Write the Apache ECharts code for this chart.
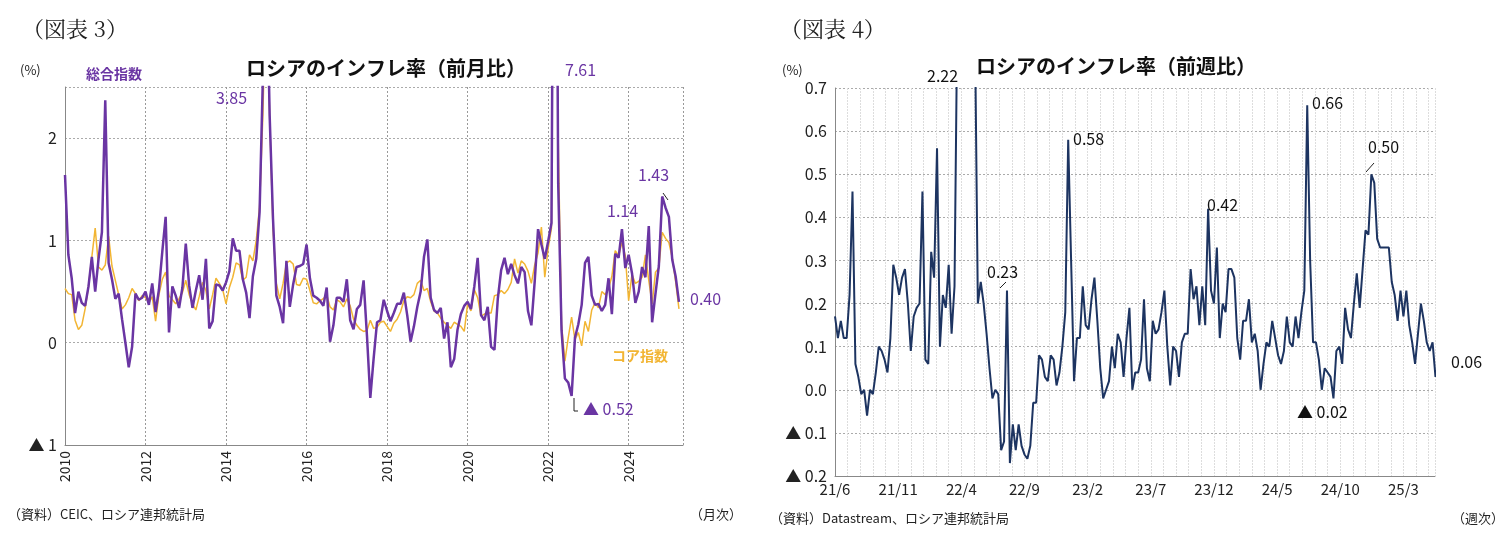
<!DOCTYPE html>
<html><head><meta charset="utf-8">
<script src="https://cdn.jsdelivr.net/npm/echarts@6/dist/echarts.min.js"></script>
<style>html,body{margin:0;background:#fff}#c{width:1511px;height:559px}</style>
</head><body><div id="c"></div>
<script>
// 図表3 月次 2010/1〜2025/4
var headline = [
  1.64,0.86,0.63,0.29,0.50,0.39,0.36,0.55,0.84,0.50,0.82,1.08,
  2.37,0.78,0.62,0.43,0.48,0.23,0.00,-0.24,-0.04,0.48,0.42,0.44,
  0.50,0.37,0.58,0.30,0.52,0.89,1.23,0.10,0.55,0.46,0.34,0.54,
  0.97,0.56,0.34,0.51,0.66,0.42,0.82,0.14,0.21,0.57,0.56,0.51,
  0.59,0.70,1.02,0.90,0.90,0.62,0.49,0.24,0.65,0.82,1.28,2.62,
  3.85,2.22,1.21,0.46,0.35,0.19,0.80,0.35,0.57,0.74,0.75,0.77,
  0.96,0.63,0.46,0.44,0.41,0.36,0.54,0.01,0.17,0.44,0.44,0.40,
  0.62,0.22,0.13,0.33,0.37,0.61,0.07,-0.54,-0.15,0.20,0.22,0.42,
  0.31,0.21,0.29,0.38,0.38,0.49,0.27,0.01,0.16,0.35,0.50,0.84,
  1.01,0.44,0.32,0.29,0.34,0.04,0.20,-0.24,-0.16,0.13,0.28,0.36,
  0.40,0.33,0.55,0.83,0.27,0.22,0.35,-0.04,-0.07,0.43,0.71,0.83,
  0.67,0.77,0.66,0.58,0.74,0.69,0.31,0.17,0.60,1.11,0.96,0.82,
  0.99,1.17,7.61,1.56,0.12,-0.35,-0.39,-0.52,0.05,0.18,0.37,0.78,
  0.84,0.46,0.37,0.38,0.31,0.37,0.63,0.28,0.87,0.83,1.11,0.73,
  0.86,0.68,0.39,0.50,0.74,0.64,1.14,0.20,0.48,0.75,1.43,1.32,
  1.23,0.81,0.65,0.40
];
var core = [
  0.53,0.48,0.47,0.22,0.13,0.17,0.33,0.55,0.84,1.12,0.74,0.71,
  0.76,1.04,0.75,0.61,0.47,0.33,0.37,0.44,0.53,0.48,0.41,0.46,
  0.44,0.39,0.45,0.21,0.47,0.62,0.69,0.46,0.42,0.38,0.43,0.49,
  0.61,0.47,0.38,0.32,0.45,0.59,0.51,0.33,0.47,0.63,0.58,0.52,
  0.38,0.54,0.64,0.78,0.76,0.61,0.64,0.86,0.80,1.00,1.33,2.24,
  3.65,2.20,1.11,0.58,0.43,0.58,0.78,0.80,0.77,0.57,0.56,0.63,
  0.62,0.51,0.39,0.38,0.41,0.43,0.47,0.35,0.32,0.42,0.40,0.35,
  0.43,0.36,0.23,0.17,0.13,0.11,0.12,0.22,0.14,0.15,0.20,0.21,
  0.16,0.11,0.19,0.23,0.30,0.41,0.45,0.44,0.47,0.58,0.61,0.51,
  0.53,0.40,0.31,0.29,0.24,0.20,0.17,0.14,0.20,0.18,0.16,0.11,
  0.38,0.31,0.52,0.44,0.26,0.28,0.29,0.29,0.46,0.47,0.51,0.48,
  0.52,0.59,0.82,0.68,0.80,0.77,0.70,0.58,0.76,0.88,1.13,0.64,
  0.92,1.12,7.00,2.00,0.18,-0.18,0.05,0.25,0.03,0.10,-0.03,0.21,
  0.11,0.32,0.39,0.34,0.50,0.47,0.53,0.65,0.90,0.85,0.98,0.85,
  0.41,0.67,0.58,0.60,0.64,0.86,0.61,0.38,0.69,0.73,1.08,1.02,
  0.98,0.83,0.60,0.33
];
// 図表4 週次 2021/6〜2025/5
var weekly = [
  0.17,0.12,0.16,0.12,0.12,0.22,0.46,0.06,0.03,-0.01,0.00,-0.06,0.00,-0.01,0.04,0.10,
  0.09,0.07,0.04,0.12,0.29,0.26,0.22,0.26,0.28,0.20,0.09,0.17,0.19,0.20,0.46,0.07,
  0.06,0.32,0.26,0.56,0.10,0.22,0.19,0.29,0.13,0.24,0.90,1.60,2.22,1.50,1.20,1.00,
  0.85,0.20,0.25,0.20,0.13,0.05,-0.02,0.00,-0.01,-0.14,-0.12,0.23,-0.17,-0.08,-0.14,-0.08,
  -0.13,-0.15,-0.16,-0.13,-0.03,-0.03,0.08,0.07,0.03,0.02,0.08,0.07,0.01,0.04,0.10,0.18,
  0.58,0.30,0.02,0.12,0.12,0.24,0.15,0.14,0.21,0.26,0.16,0.05,-0.02,0.00,0.02,0.10,
  0.05,0.13,0.11,0.03,0.12,0.19,0.00,0.04,0.04,0.07,0.21,0.05,0.02,0.16,0.13,0.14,
  0.18,0.23,0.10,0.01,0.10,0.09,0.03,0.11,0.13,0.13,0.28,0.21,0.24,0.15,0.24,0.15,
  0.42,0.23,0.20,0.33,0.12,0.20,0.18,0.28,0.28,0.26,0.12,0.07,0.16,0.16,0.21,0.11,
  0.13,0.09,0.00,0.06,0.11,0.10,0.16,0.12,0.08,0.06,0.09,0.17,0.11,0.10,0.17,0.12,
  0.18,0.23,0.66,0.30,0.11,0.11,0.07,0.00,0.05,0.04,0.03,-0.02,0.09,0.10,0.06,0.19,
  0.14,0.12,0.20,0.27,0.19,0.28,0.37,0.36,0.50,0.48,0.35,0.33,0.33,0.33,0.33,0.25,
  0.22,0.16,0.23,0.17,0.23,0.15,0.11,0.06,0.13,0.20,0.16,0.11,0.09,0.11,0.03,0.06
];
var yearTicks = [2010,2012,2014,2016,2018,2020,2022,2024];
var monthLabels = ['21/6','21/11','22/4','22/9','23/2','23/7','23/12','24/5','24/10','25/3'];

var purple = '#6a35a3', orange = '#f2b533', navy = '#1d3461';
var jp = '"Noto Sans CJK JP", sans-serif';

function neg(v, d){ return v < 0 ? '▲ ' + Math.abs(v).toFixed(d) : v.toFixed(d); }
function txt(x, y, s, size, color, weight){
  return {type:'text', left:x, top:y, z:10,
    style:{text:s, font:(weight || 'normal') + ' ' + size + 'px ' + jp, fill:color}};
}

var chart = echarts.init(document.getElementById('c'));
chart.setOption({
  animation: false,
  grid: [
    {left: 65, top: 87, width: 618, height: 358},
    {left: 835, top: 88, width: 600, height: 388}
  ],
  xAxis: [
    {gridIndex:0, type:'value', min:2010, max:2025.35, interval:2,
     axisLine:{onZero:false, lineStyle:{color:'#888'}}, axisTick:{show:false},
     axisLabel:{rotate:90, color:'#222', fontSize:14, fontFamily:jp, showMaxLabel:false, margin:6,
       formatter:function(v){ return yearTicks.indexOf(v) >= 0 ? String(v) : ''; }},
     splitLine:{show:true, lineStyle:{color:'#999', type:[2,2]}}},
    {gridIndex:1, type:'value', min:0, max:47.5, interval:1,
     axisLine:{onZero:false, lineStyle:{color:'#888'}}, axisTick:{show:false},
     axisLabel:{color:'#222', fontSize:15, fontFamily:jp, showMaxLabel:false, margin:6,
       formatter:function(v){ return v % 5 === 0 ? (monthLabels[v/5] || '') : ''; }},
     splitLine:{show:true, lineStyle:{color:'#ddd', width:1, type:[2,1]}}}
  ],
  yAxis: [
    {gridIndex:0, type:'value', min:-1, max:2.5, interval:1,
     axisLine:{show:true, lineStyle:{color:'#888'}}, axisTick:{show:false},
     axisLabel:{color:'#222', fontSize:16, fontFamily:jp, showMaxLabel:false,
       formatter:function(v){ return neg(v, 0); }},
     splitLine:{lineStyle:{color:'#aaa', type:[2,2]}}},
    {gridIndex:1, type:'value', min:-0.2, max:0.7, interval:0.1,
     axisLine:{show:true, lineStyle:{color:'#888'}}, axisTick:{show:false},
     axisLabel:{color:'#222', fontSize:16, fontFamily:jp,
       formatter:function(v){ return neg(v, 1); }},
     splitLine:{lineStyle:{color:'#aaa', type:[2,2]}}}
  ],
  series: [
    {type:'line', xAxisIndex:0, yAxisIndex:0, symbol:'none', clip:true,
     lineStyle:{color:orange, width:1.5},
     data: core.map(function(v,i){ return [2010 + i/12, v]; })},
    {type:'line', xAxisIndex:0, yAxisIndex:0, symbol:'none', clip:true,
     lineStyle:{color:purple, width:2.5},
     data: headline.map(function(v,i){ return [2010 + i/12, v]; })},
    {type:'line', xAxisIndex:1, yAxisIndex:1, symbol:'none', clip:true,
     lineStyle:{color:navy, width:2},
     data: weekly.map(function(v,i){ return [i*12/52, v]; })}
  ],
  graphic: [
    {type:'text', left:22, top:18, style:{text:'（図表 3）', font:'22px "Noto Serif CJK JP", "DejaVu Serif", serif', fill:'#222'}},
    {type:'text', left:780, top:18, style:{text:'（図表 4）', font:'22px "Noto Serif CJK JP", "DejaVu Serif", serif', fill:'#222'}},
    txt(246, 58, 'ロシアのインフレ率（前月比）', 20, '#111', 'bold'),
    txt(976, 56, 'ロシアのインフレ率（前週比）', 20, '#111', 'bold'),
    txt(20, 64, '(%)', 13, '#222'),
    txt(782, 64, '(%)', 13, '#222'),
    txt(86, 67, '総合指数', 14, purple, 'bold'),
    txt(612, 349, 'コア指数', 14, orange, 'bold'),
    txt(216, 90, '3.85', 16, purple),
    txt(565, 62, '7.61', 16, purple),
    txt(607, 203, '1.14', 16, purple),
    txt(638, 167, '1.43', 16, purple),
    txt(690, 291, '0.40', 16, purple),
    txt(583, 401, '▲ 0.52', 16, purple),
    {type:'polyline', z:10, shape:{points:[[574,398],[574,411],[578,411]]}, style:{stroke:'#222', lineWidth:1, fill:null}},
    {type:'line', z:10, shape:{x1:663,y1:193,x2:668,y2:200}, style:{stroke:'#222', lineWidth:1}},
    txt(927, 68, '2.22', 16, '#111'),
    txt(1073, 131, '0.58', 16, '#111'),
    txt(987, 264, '0.23', 16, '#111'),
    {type:'line', z:10, shape:{x1:1000,y1:288,x2:1006,y2:282}, style:{stroke:'#222', lineWidth:1}},
    txt(1207, 197, '0.42', 16, '#111'),
    txt(1312, 95, '0.66', 16, '#111'),
    txt(1368, 139, '0.50', 16, '#111'),
    {type:'line', z:10, shape:{x1:1374,y1:163,x2:1366,y2:172}, style:{stroke:'#222', lineWidth:1}},
    txt(1297, 404, '▲ 0.02', 16, '#111'),
    txt(1451, 354, '0.06', 16, '#111'),
    txt(8, 508, '（資料）CEIC、ロシア連邦統計局', 13, '#222'),
    txt(690, 508, '（月次）', 13, '#222'),
    txt(770, 512, '（資料）Datastream、ロシア連邦統計局', 13, '#222'),
    txt(1452, 512, '（週次）', 13, '#222')
  ]
});
</script>
</body></html>
